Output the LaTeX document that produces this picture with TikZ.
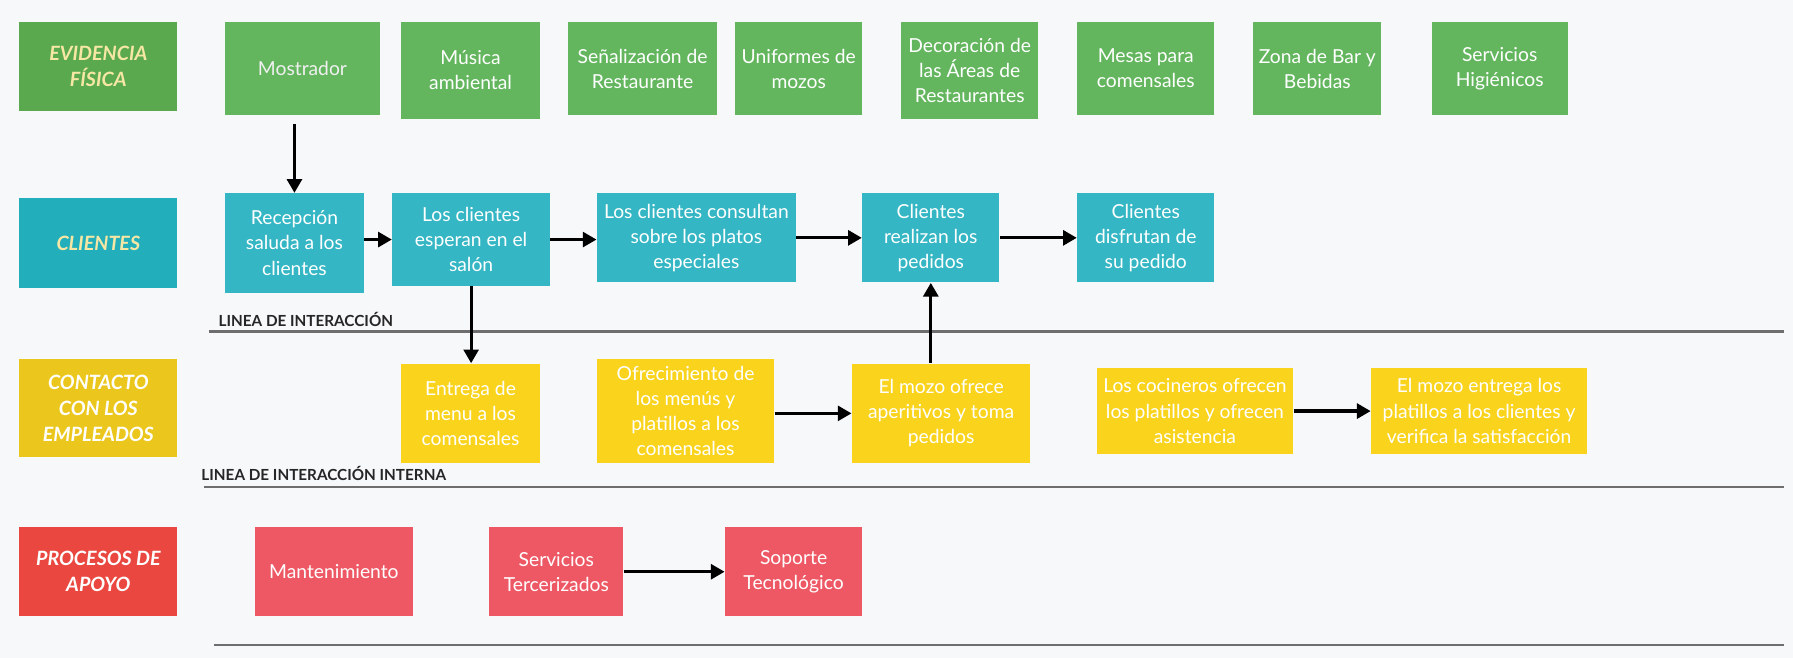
\documentclass[tikz,border=0pt]{standalone}
\usepackage{fontspec}
\setmainfont{Lato}
\usetikzlibrary{arrows.meta}

\definecolor{fondo}{HTML}{F7F8FA}
\definecolor{verde}{HTML}{63B65E}
\definecolor{verdeosc}{HTML}{5AA94F}
\definecolor{turquesa}{HTML}{34B6C4}
\definecolor{turquesaosc}{HTML}{22AFBB}
\definecolor{amarillo}{HTML}{FAD31C}
\definecolor{amarilloosc}{HTML}{EBC61C}
\definecolor{rojo}{HTML}{EE5864}
\definecolor{rojoosc}{HTML}{E9473F}
\definecolor{crema}{HTML}{F7E7A4}
\definecolor{gris}{HTML}{6E6E6E}

\begin{document}
\begin{tikzpicture}[
  caja/.style={inner sep=2pt, align=center, text=white, font=\fontsize{9.6}{12.5}\selectfont},
  etiqueta/.style={caja, minimum width=2.76cm, font=\fontsize{9.8}{13}\selectfont\bfseries\itshape},
  flecha/.style={line width=1.6pt, -{Triangle[length=2.4mm,width=2.6mm]}},
  linea/.style={gris, line width=1.2pt},
  rotulo/.style={anchor=west, text=black!85, font=\fontsize{7.6}{10}\selectfont\bfseries}
]
  \fill[fondo] (0,0) rectangle (31.36,-11.5);

  % Evidencia fisica
  \node[etiqueta, fill=verdeosc, text=crema, minimum height=1.56cm] (evidencia) at (1.72,-1.16) {EVIDENCIA\\FÍSICA};
  \node[caja, fill=verde, text=white!88!gray, minimum width=2.70cm, minimum height=1.64cm] (mostrador) at (5.29,-1.2) {Mostrador};
  \node[caja, fill=verde, minimum width=2.42cm, minimum height=1.70cm] (musica) at (8.23,-1.23) {Música\\ambiental};
  \node[caja, fill=verde, minimum width=2.60cm, minimum height=1.64cm] (senal) at (11.24,-1.2) {Señalización de\\Restaurante};
  \node[caja, fill=verde, minimum width=2.22cm, minimum height=1.64cm] (uniformes) at (13.97,-1.2) {Uniformes de\\mozos};
  \node[caja, fill=verde, minimum width=2.40cm, minimum height=1.70cm] (decoracion) at (16.96,-1.23) {Decoración de\\las Áreas de\\Restaurantes};
  \node[caja, fill=verde, minimum width=2.40cm, minimum height=1.64cm] (mesas) at (20.04,-1.2) {Mesas para\\comensales};
  \node[caja, fill=verde, minimum width=2.24cm, minimum height=1.64cm] (bar) at (23.04,-1.2) {Zona de Bar y\\Bebidas};
  \node[caja, fill=verde, minimum width=2.38cm, minimum height=1.64cm] (higienicos) at (26.23,-1.2) {Servicios\\Higiénicos};

  % Clientes
  \node[etiqueta, fill=turquesaosc, text=crema, minimum height=1.58cm] (clientes) at (1.72,-4.25) {CLIENTES};
  \node[caja, fill=turquesa, minimum width=2.42cm, minimum height=1.74cm] (recepcion) at (5.15,-4.25) {Recepción\\saluda a los\\clientes};
  \node[caja, fill=turquesa, minimum width=2.76cm, minimum height=1.62cm] (esperan) at (8.24,-4.19) {Los clientes\\esperan en el\\salón};
  \node[caja, fill=turquesa, minimum width=3.48cm, minimum height=1.56cm] (consultan) at (12.18,-4.16) {Los clientes consultan\\sobre los platos\\especiales};
  \node[caja, fill=turquesa, minimum width=2.40cm, minimum height=1.56cm] (realizan) at (16.28,-4.16) {Clientes\\realizan los\\pedidos};
  \node[caja, fill=turquesa, minimum width=2.40cm, minimum height=1.56cm] (disfrutan) at (20.04,-4.16) {Clientes\\disfrutan de\\su pedido};

  \node[rotulo] (lineaext) at (3.70,-5.58) {LINEA DE INTERACCIÓN};
  \draw[linea] (3.66,-5.8) -- (31.2,-5.8);

  % Contacto con los empleados
  \node[etiqueta, fill=amarilloosc, minimum height=1.72cm] (contacto) at (1.72,-7.14) {CONTACTO\\CON LOS\\EMPLEADOS};
  \node[caja, fill=amarillo, minimum width=2.42cm, minimum height=1.74cm] (entrega) at (8.23,-7.23) {Entrega de\\menu a los\\comensales};
  \node[caja, fill=amarillo, minimum width=3.10cm, minimum height=1.82cm] (ofrecimiento) at (11.99,-7.19) {Ofrecimiento de\\los menús y\\platillos a los\\comensales};
  \node[caja, fill=amarillo, minimum width=3.12cm, minimum height=1.74cm] (mozo) at (16.46,-7.23) {El mozo ofrece\\aperitivos y toma\\pedidos};
  \node[caja, fill=amarillo, minimum width=3.44cm, minimum height=1.50cm] (cocineros) at (20.90,-7.19) {Los cocineros ofrecen\\los platillos y ofrecen\\asistencia};
  \node[caja, fill=amarillo, minimum width=3.78cm, minimum height=1.50cm] (mozoentrega) at (25.87,-7.19) {El mozo entrega los\\platillos a los clientes y\\verifica la satisfacción};

  \node[rotulo] (lineaint) at (3.40,-8.28) {LINEA DE INTERACCIÓN INTERNA};
  \draw[linea] (3.56,-8.52) -- (31.2,-8.52);

  % Procesos de apoyo
  \node[etiqueta, fill=rojoosc, minimum height=1.56cm] (procesos) at (1.72,-10.0) {PROCESOS DE\\APOYO};
  \node[caja, fill=rojo, minimum width=2.76cm, minimum height=1.56cm] (mantenimiento) at (5.84,-10.0) {Mantenimiento};
  \node[caja, fill=rojo, minimum width=2.34cm, minimum height=1.56cm] (tercerizados) at (9.73,-10.0) {Servicios\\Tercerizados};
  \node[caja, fill=rojo, minimum width=2.40cm, minimum height=1.56cm] (soporte) at (13.88,-10.0) {Soporte\\Tecnológico};

  \draw[linea] (3.74,-11.28) -- (31.2,-11.28);

  % Flechas
  \draw[flecha, shorten <=1.4mm] (recepcion.north |- mostrador.south) -- (recepcion.north);
  \draw[flecha] (recepcion.east |- esperan) -- (esperan.west);
  \draw[flecha] (esperan.east) -- (esperan.east -| consultan.west);
  \draw[flecha] (consultan) -- (realizan);
  \draw[flecha] (realizan) -- (disfrutan);
  \draw[flecha] (esperan.south) -- (esperan.south |- entrega.north);
  \draw[flecha] (realizan.south |- mozo.north) -- (realizan.south);
  \draw[flecha] (ofrecimiento.east |- mozo) -- (mozo.west);
  \draw[flecha] (cocineros) -- (mozoentrega);
  \draw[flecha] (tercerizados) -- (soporte);
\end{tikzpicture}
\end{document}
